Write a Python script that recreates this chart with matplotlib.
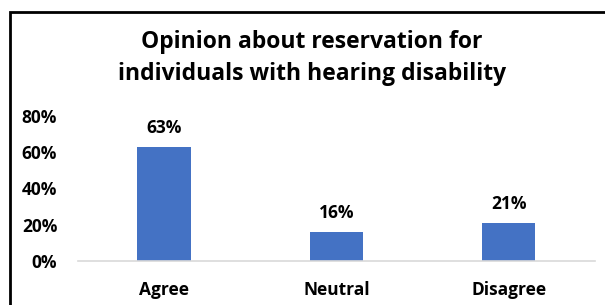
import matplotlib.pyplot as plt
from matplotlib.patches import Rectangle

categories = ["Agree", "Neutral", "Disagree"]
values = [63, 16, 21]
yticks = [0, 20, 40, 60, 80]

plt.rcParams['font.family'] = ['Open Sans', 'DejaVu Sans']

fig = plt.figure(figsize=(6.05, 3.05), dpi=100)
ax = fig.add_axes([0.129, 0.144, 0.854, 0.476])

x = range(len(categories))
bars = ax.bar(x, values, width=0.31, color='#4472C4', zorder=2)
for b, v in zip(bars, values):
    ax.annotate(f"{v}%", (b.get_x() + b.get_width() / 2, v), xytext=(0, 7),
                textcoords='offset points', ha='center', va='bottom',
                fontsize=12.5, fontweight='bold')

ax.set_xlim(-0.5, len(categories) - 0.5)
ax.set_ylim(0, 80)
ax.set_yticks(yticks)
ax.set_yticklabels([f"{t}%" for t in yticks], fontsize=12.5, fontweight='bold')
ax.set_xticks(list(x))
ax.set_xticklabels(categories, fontsize=12.5, fontweight='bold')
ax.tick_params(axis='y', length=0, pad=15)
ax.tick_params(axis='x', length=0, pad=14)
for s in ['top', 'right', 'left']:
    ax.spines[s].set_visible(False)
ax.spines['bottom'].set_color('#D9D9D9')
ax.spines['bottom'].set_linewidth(1.2)

fig.text(0.515, 0.81, "Opinion about reservation for\nindividuals with hearing disability",
         ha='center', va='center', fontsize=16.5, fontweight='bold', linespacing=1.45)

fig.patches.append(Rectangle((10 / 605, -0.1), 1.2, 0.1 + (305 - 12) / 305,
                             transform=fig.transFigure, fill=False,
                             edgecolor='black', linewidth=2))

fig.savefig("out.png", dpi=100)
